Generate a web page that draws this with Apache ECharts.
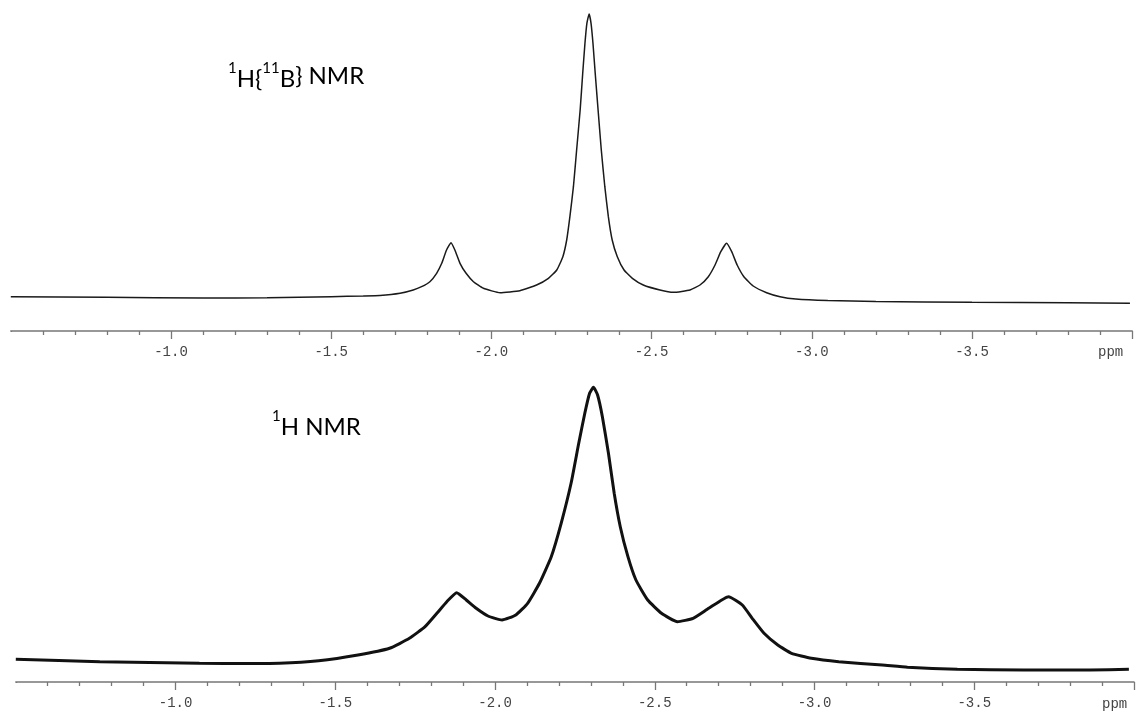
<!DOCTYPE html>
<html>
<head>
<meta charset="utf-8">
<script src="https://cdn.jsdelivr.net/npm/echarts@6/dist/echarts.min.js"></script>
<style>
html,body{margin:0;padding:0;background:#fff;}
#chart{width:1137px;height:715px;}
</style>
</head>
<body>
<div id="chart"></div>
<script>
// Top spectrum: 1H{11B} NMR  (ppm, intensity)
const topPpm = [-0.50,-0.80,-1.10,-1.30,-1.50,-1.60,-1.652,-1.715,-1.756,-1.782,-1.808,-1.829,-1.845,-1.860,-1.874,-1.886,-1.902,-1.921,-1.944,-1.975,-2.027,-2.089,-2.141,-2.178,-2.204,-2.223,-2.235,-2.245,-2.256,-2.266,-2.277,-2.285,-2.292,-2.298,-2.305,-2.311,-2.317,-2.324,-2.333,-2.343,-2.354,-2.365,-2.377,-2.393,-2.414,-2.440,-2.474,-2.526,-2.568,-2.620,-2.651,-2.677,-2.698,-2.716,-2.734,-2.750,-2.767,-2.788,-2.817,-2.859,-2.901,-2.950,-3.050,-3.200,-3.500,-3.800,-3.993];
const topInt = [34.3,33.8,33.0,33.2,34.3,35.0,35.5,37.7,41,44.3,49.3,57.7,67.7,81,88.3,81,67.7,57.7,49.3,42.7,38.3,40.3,46,52.7,61,74.3,91,114.3,144.3,181,221,257.7,287.7,307.7,317,307.7,287.7,257.7,221,181,144.3,114.3,91,74.3,61,52.7,46,41,38.7,41,46,54.3,66,79.3,87.7,79.3,66,54.3,45,38.3,34.3,32,30.5,29.5,28.7,28.3,27.7];

// Bottom spectrum: 1H NMR  (ppm, intensity)
const botPpm = [-0.50,-0.763,-1.075,-1.23,-1.325,-1.448,-1.571,-1.670,-1.732,-1.781,-1.818,-1.849,-1.880,-1.910,-1.941,-1.978,-2.022,-2.065,-2.102,-2.139,-2.176,-2.207,-2.238,-2.262,-2.281,-2.296,-2.308,-2.321,-2.336,-2.355,-2.373,-2.392,-2.416,-2.441,-2.478,-2.521,-2.571,-2.620,-2.669,-2.731,-2.774,-2.805,-2.842,-2.885,-2.928,-2.990,-3.076,-3.212,-3.291,-3.447,-3.655,-3.862,-3.984];
const botInt = [22.7,20.3,18.7,18.5,18.7,21.3,27,33.7,43.7,55.3,68.7,80.3,89.3,82,73.7,66,62,67,78.7,98.7,125.3,158.7,198.7,238.7,268.7,288.7,294.7,287,265.3,228.7,188.7,155.3,125.3,102,82,68.7,60.3,63.7,73.7,85.3,77,63.7,48.7,37,28.7,23.7,20.3,17,14.7,12.7,12,12,12.7];

// Axis settings
const axisMin = -4.0, axisMax = -0.5, axisStep = 0.5;
const topTitle = ['1', 'H{', '11', 'B', '} NMR'];
const botTitle = ['1', 'H NMR'];
const unitLabel = 'ppm';

function pairs(xs, ys){ return xs.map((x,i)=>[x, ys[i]]); }

const AX = '#777';
function makeXAxis(gridIndex){
  return {
    type:'value', gridIndex: gridIndex, inverse:true,
    min: axisMin, max: axisMax, interval: axisStep,
    axisLine:{show:true, onZero:false, lineStyle:{color:AX, width:1.5}},
    axisTick:{show:true, length:8, lineStyle:{color:AX, width:1.3}},
    minorTick:{show:true, splitNumber:5, length:4, lineStyle:{color:AX, width:1.3}},
    splitLine:{show:false}, minorSplitLine:{show:false},
    axisLabel:{
      margin:14, color:'#444', fontFamily:'Liberation Mono', fontSize:14,
      formatter: v => (Math.abs(v-axisMin)<1e-6 || Math.abs(v-axisMax)<1e-6) ? '' : v.toFixed(1)
    }
  };
}
function makeYAxis(gridIndex){
  return {type:'value', gridIndex:gridIndex, min:0, max:320, show:false};
}
const baseFont = {fontFamily:'Lato', fontSize:24, fill:'#000', lineHeight:30};
const richSup = {
  main:{fontFamily:'Lato', fontSize:24, fill:'#000', verticalAlign:'bottom', lineHeight:30},
  sup:{fontFamily:'Lato', fontSize:15, fill:'#000', verticalAlign:'top', lineHeight:30}
};

const chart = echarts.init(document.getElementById('chart'), null, {renderer:'canvas'});
chart.setOption({
  backgroundColor:'#fff',
  animation:false,
  grid:[
    {left:10.8, top:11, width:1121.4, height:320},
    {left:15.8, top:362, width:1121.4, height:320}
  ],
  xAxis:[makeXAxis(0), makeXAxis(1)],
  yAxis:[makeYAxis(0), makeYAxis(1)],
  series:[
    {type:'line', xAxisIndex:0, yAxisIndex:0, data:pairs(topPpm, topInt), showSymbol:false, smooth:0.15,
     lineStyle:{color:'#1a1a1a', width:1.5}},
    {type:'line', xAxisIndex:1, yAxisIndex:1, data:pairs(botPpm, botInt), showSymbol:false, smooth:0.15,
     lineStyle:{color:'#111', width:3}}
  ],
  graphic:[
    {type:'text', left:228, top:61, style:Object.assign({
      text:'{sup|'+topTitle[0]+'}{main|'+topTitle[1]+'}{sup|'+topTitle[2]+'}{main|'+topTitle[3]+'}'+topTitle[4],
      rich:richSup}, baseFont)},
    {type:'text', left:272, top:409, style:Object.assign({
      text:'{sup|'+botTitle[0]+'}{main|'+botTitle[1]+'}',
      rich:richSup}, baseFont)},
    {type:'text', left:1098, top:345, style:{text:unitLabel, fontFamily:'Liberation Mono', fontSize:14, fill:'#444'}},
    {type:'text', left:1102, top:697, style:{text:unitLabel, fontFamily:'Liberation Mono', fontSize:14, fill:'#444'}},
    // mask the unlabeled start ticks at the left ends of both axes
    {type:'rect', shape:{x:8, y:332, width:6, height:10}, style:{fill:'#fff'}, z:100},
    {type:'rect', shape:{x:13, y:683, width:6, height:10}, style:{fill:'#fff'}, z:100}
  ]
});
</script>
</body>
</html>
